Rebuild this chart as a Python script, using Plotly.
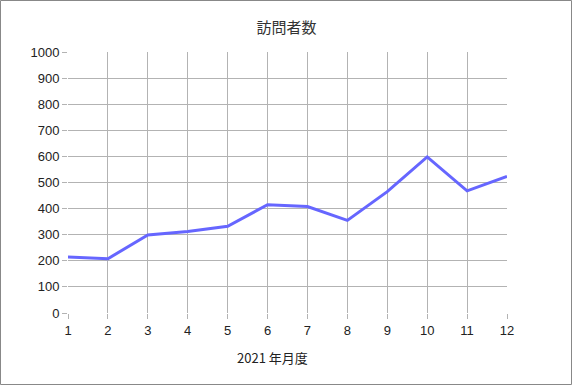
import plotly.graph_objects as go

months = [1, 2, 3, 4, 5, 6, 7, 8, 9, 10, 11, 12]
visitors = [215, 208, 299, 312, 332, 415, 408, 355, 465, 598, 468, 523]
y_ticks = [0, 100, 200, 300, 400, 500, 600, 700, 800, 900, 1000]

W, H = 573, 386
L, R, T, B = 68, 66, 52, 73
pw, ph = W - L - R, H - T - B

fig = go.Figure()
fig.add_trace(go.Scatter(x=months, y=visitors, mode="lines",
                         line=dict(color="#6666ff", width=3)))

def px_x(p):
    return (p - L) / pw

def px_y(p):
    return 1 - (p - T) / ph

fig.update_layout(
    width=W, height=H,
    margin=dict(l=L, r=R, t=T, b=B),
    paper_bgcolor="white", plot_bgcolor="white",
    showlegend=False,
    font=dict(family="Liberation Sans, Arial, sans-serif", size=13, color="#222"),
    title=dict(text="訪問者数", x=0.5, xanchor="center", y=1 - 28 / H, yanchor="middle",
               font=dict(family="Noto Sans CJK JP", size=15, color="#333")),
    xaxis=dict(range=[1, 12], tickvals=months, ticktext=[str(m) for m in months],
               showgrid=True, gridcolor="#b3b3b3", gridwidth=1,
               showline=False, zeroline=False,
               ticks="outside", ticklen=5, tickcolor="#b3b3b3"),
    yaxis=dict(range=[0, 1000], tickvals=y_ticks,
               showgrid=True, gridcolor="#b3b3b3", gridwidth=1,
               showline=False, zeroline=False,
               ticks="outside", ticklen=5, tickcolor="#b3b3b3"),
    annotations=[dict(text="2021 年月度", xref="paper", yref="paper",
                      x=px_x(272), y=px_y(357), xanchor="center", yanchor="middle",
                      showarrow=False,
                      font=dict(family="Noto Sans CJK JP", size=13, color="#222"))],
    shapes=[dict(type="rect", xref="paper", yref="paper",
                 x0=px_x(0.5), x1=px_x(W - 1.5), y0=px_y(H - 1.5), y1=px_y(0.5),
                 line=dict(color="#888888", width=1), layer="below")],
)

fig.write_html("out.html", config={"displayModeBar": False},
               post_script="document.body.style.margin='0';document.body.style.overflow='hidden';")
